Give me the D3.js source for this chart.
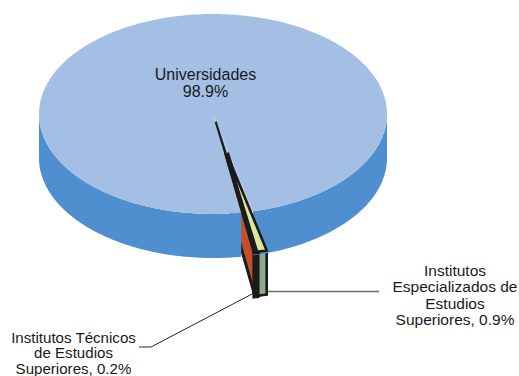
<!DOCTYPE html>
<html><head><meta charset="utf-8">
<script src="https://cdn.jsdelivr.net/npm/d3@7"></script>
<style>html,body{margin:0;padding:0;background:#fff}svg{display:block}text{font-family:"Liberation Sans",Arial,sans-serif;fill:#1a1a1a;text-anchor:middle}</style>
</head><body><svg id="c" width="519" height="376"></svg>
<script>
const categories=["Universidades","Institutos Especializados de Estudios Superiores","Institutos Técnicos de Estudios Superiores"];
const values=[98.9,0.9,0.2];
const labelLines=[["Universidades","98.9%"],["Institutos","Especializados de","Estudios","Superiores, 0.9%"],["Institutos Técnicos","de Estudios","Superiores, 0.2%"]];
const colors={top:"#a3bfe4",wall:"#4f8fcf",wallInner:"#a9c4e7",yellow:"#d9e8a0",green:"#8dab8b",red:"#c2502d",ink:"#1c1a1a",lead:"#6e6e6e"};
const W=519,H=376,cx=213,cy=114,rx=174,ry=100,depth=44,explode=0.4,tipBack=0.32;
const start=170.66*Math.PI/180;
const arcs=d3.pie().sort(null).startAngle(start).endAngle(start+2*Math.PI)(values);
const svg=d3.select("#c");
const line=d3.line();
const pt=(c,a,r=1,dz=0)=>[c[0]+rx*r*Math.sin(a),c[1]-ry*r*Math.cos(a)+dz];
const rimPts=(c,a0,a1,dz=0)=>{const n=Math.max(2,Math.ceil(Math.abs(a1-a0)/0.02));return d3.range(n+1).map(i=>pt(c,a0+(a1-a0)*i/n,1,dz));};
const topFace=(c,a0,a1)=>[c,...rimPts(c,a0,a1)];
const wall=(c,a0,a1)=>[...rimPts(c,a0,a1),...rimPts(c,a1,a0,depth)];
const radial=(c,a)=>[c,pt(c,a),pt(c,a,1,depth),[c[0],c[1]+depth]];
const poly=(p,fill,stroke,sw,miter=100)=>svg.append("path").attr("d",line(p)+"Z").attr("fill",fill)
  .attr("stroke",stroke||"none").attr("stroke-width",sw||0).attr("stroke-linejoin","miter").attr("stroke-miterlimit",miter);

const [main,esp,tec]=arcs;
const mid=(esp.startAngle+tec.endAngle)/2;
const C=[cx,cy];
const E=[cx+explode*rx*Math.sin(mid),cy-explode*ry*Math.cos(mid)];
const tip=pt(E,mid,-tipBack);

// leader lines, under the wedge
const lead=(p)=>svg.append("path").attr("d",d3.line()(p)).attr("fill","none").attr("stroke-width",1);
lead([[262,291.5],[379,291.5]]).attr("stroke",colors.lead).attr("stroke-width",1.5);
lead([[254,293],[151,347]]).attr("stroke","#222");
lead([[151,347],[139,347]]).attr("stroke",colors.lead).attr("stroke-width",1.5);

// exploded slices: side wall, rim walls
poly(radial(E,tec.endAngle),colors.red,colors.ink,3,2);
poly(wall(E,esp.startAngle,esp.endAngle),colors.green,colors.ink,2.6);
poly(wall(E,tec.startAngle,tec.endAngle),colors.ink,colors.ink,5,2);

// main slice walls (front half, split by the gap)
const fEnd=main.endAngle-2*Math.PI;
poly(radial(C,fEnd).slice(0,2).concat([pt(C,main.startAngle)]),colors.wallInner);
poly(wall(C,Math.PI/2,fEnd),colors.wall);
poly(wall(C,main.startAngle,3*Math.PI/2),colors.wall);
poly(topFace(C,main.startAngle,main.endAngle),colors.top);

// exploded slices: top faces, with the long pointed outline running back from the apex
poly([tip,pt(E,tec.startAngle),pt(E,tec.endAngle)],colors.ink,colors.ink,2,2);
poly(topFace(E,tec.startAngle,tec.endAngle),colors.ink,colors.ink,5,2);
poly(topFace(E,esp.startAngle,esp.endAngle),colors.yellow,colors.ink,2.6,8);

// labels
const tx=(lines,x,ys,fs)=>lines.forEach((s,i)=>svg.append("text").attr("x",x).attr("y",ys[i]).attr("font-size",fs).text(s));
tx(labelLines[0],205.5,[80,96.5],16);
tx(labelLines[1],455,[276,292,309,325],15.5);
tx(labelLines[2],73.5,[342.5,358,373.5],15.1);
</script></body></html>
